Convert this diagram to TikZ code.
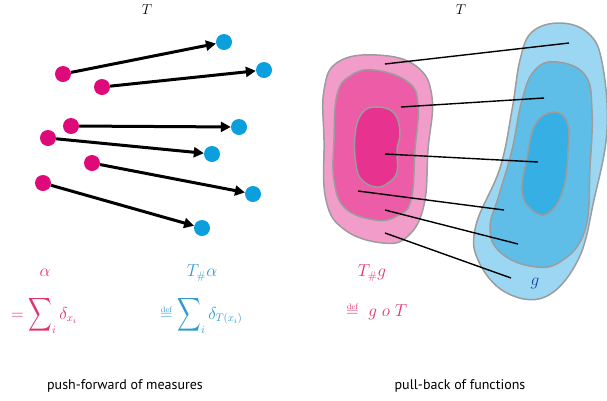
\documentclass[tikz,border=0pt]{standalone}
\usepackage{amsmath}
\usepackage{fontspec}
\setsansfont{PT Sans}
\usetikzlibrary{arrows.meta}
\definecolor{dotpink}{HTML}{DF0A7A}
\definecolor{dotblue}{HTML}{0C9FDE}
\definecolor{txtpink}{HTML}{E0336E}
\definecolor{txtblue}{HTML}{2D9BCF}
\definecolor{gblue}{HTML}{1F3FA0}
\definecolor{pinkA}{HTML}{F29CC9}
\definecolor{pinkB}{HTML}{EC5CA7}
\definecolor{pinkC}{HTML}{E7328F}
\definecolor{blueA}{HTML}{9BD7F2}
\definecolor{blueB}{HTML}{5EBEE8}
\definecolor{blueC}{HTML}{35AFE4}
\definecolor{edgegray}{HTML}{9C9C9C}
\newcommand{\bigsum}{\mathop{\vcenter{\hbox{\scalebox{0.95}[1.35]{$\displaystyle\sum$}}}}\nolimits}
\newcommand{\defeq}{\mathrel{\vbox{\offinterlineskip\halign{\hfil##\hfil\cr
  $\scriptscriptstyle\mathrm{def}$\cr\noalign{\kern0.5pt}$=$\cr}}}}
\tikzset{
  src/.style={circle,fill=dotpink,inner sep=0pt,minimum size=16pt},
  dst/.style={circle,fill=dotblue,inner sep=0pt,minimum size=16pt},
  push/.style={line width=3pt,-{Triangle[length=10pt,width=10pt]}},
  blob/.style={draw=edgegray,line width=1.5pt},
  link/.style={line width=1.4pt,black},
  mtext/.style={font=\fontsize{16}{19}\selectfont,inner sep=0pt},
  ttext/.style={font=\fontsize{14}{17}\selectfont,inner sep=0pt},
  captext/.style={font=\sffamily\fontsize{14}{16}\selectfont,inner sep=0pt}
}
\begin{document}
\begin{tikzpicture}[x=1pt,y=-1pt]
\useasboundingbox (0,0) rectangle (607,400);
% left: push-forward
\node[ttext] (tl) at (147,10) {$T$};
\node[src] (p1) at (63,74) {};
\node[src] (p2) at (102,87) {};
\node[src] (p3) at (71,126) {};
\node[src] (p4) at (48,138) {};
\node[src] (p5) at (92,163) {};
\node[src] (p6) at (43,183) {};
\node[dst] (b1) at (224,42) {};
\node[dst] (b2) at (264,70) {};
\node[dst] (b3) at (239,127) {};
\node[dst] (b4) at (212,154) {};
\node[dst] (b5) at (253,194) {};
\node[dst] (b6) at (202,228) {};
\foreach \i in {1,...,6} {\draw[push] (p\i) -- (b\i);}
\node[mtext,text=txtpink] (alpha) at (45,273) {$\alpha$};
\node[mtext,text=txtblue] (talpha) at (202,273) {$T_{\#}\alpha$};
\node[mtext,text=txtpink,anchor=base west] (sumA) at (11,319) {$=\bigsum_i \delta_{x_i}$};
\node[mtext,text=txtblue,anchor=base west] (sumB) at (160,319) {$\defeq\bigsum_i \delta_{T(x_i)}$};
\node[captext] (capL) at (125,386) {push-forward of measures};
% right: pull-back
\node[ttext] (tr) at (461,10) {$T$};
\path[fill=pinkA,blob] plot[smooth cycle,tension=0.7] coordinates {(377,55) (416,66) (432,97) (428,150) (424,205) (408,236) (383,243) (345,230) (326,200) (324,140) (324,90) (338,62)};
\path[fill=pinkB,blob] plot[smooth cycle,tension=0.7] coordinates {(374,70) (408,82) (418,105) (415,150) (411,200) (397,216) (375,220) (345,208) (334,180) (334,140) (337,95) (350,76)};
\path[fill=pinkC,blob] plot[smooth cycle,tension=0.7] coordinates {(377,107) (394,113) (400,132) (397,150) (397,172) (388,183) (376,187) (362,180) (356,165) (355,135) (362,113)};
\path[fill=blueA,blob] plot[smooth cycle,tension=0.65] coordinates {(560,23) (588,33) (602,62) (607,130) (594,200) (578,260) (545,297) (505,292) (478,260) (476,225) (500,168) (512,110) (520,60) (532,32)};
\path[fill=blueB,blob] plot[smooth cycle,tension=0.7] coordinates {(557,62) (585,75) (592,110) (590,167) (585,230) (560,262) (530,266) (500,252) (490,228) (499,195) (512,150) (522,100) (535,70)};
\path[fill=blueC,blob] plot[smooth cycle,tension=0.7] coordinates {(553,112) (567,122) (568,150) (563,190) (547,214) (530,208) (522,190) (527,158) (535,125)};
\coordinate (l1a) at (385,64);  \coordinate (l1b) at (569,43);
\coordinate (l2a) at (401,107); \coordinate (l2b) at (544,98);
\coordinate (l3a) at (385,154); \coordinate (l3b) at (538,162);
\coordinate (l4a) at (358,191); \coordinate (l4b) at (504,210);
\coordinate (l5a) at (385,210); \coordinate (l5b) at (518,244);
\coordinate (l6a) at (385,233); \coordinate (l6b) at (511,278);
\foreach \i in {1,...,6} {\draw[link] (l\i a) -- (l\i b);}
\node[mtext,text=txtpink] (tg) at (372,273) {$T_{\#}g$};
\node[mtext,text=gblue] (g) at (535,283) {$g$};
\node[mtext,text=txtpink,anchor=base west] (gdef) at (346,316) {$\defeq\ g\ o\ T$};
\node[captext] (capR) at (460,386) {pull-back of functions};
\end{tikzpicture}
\end{document}
